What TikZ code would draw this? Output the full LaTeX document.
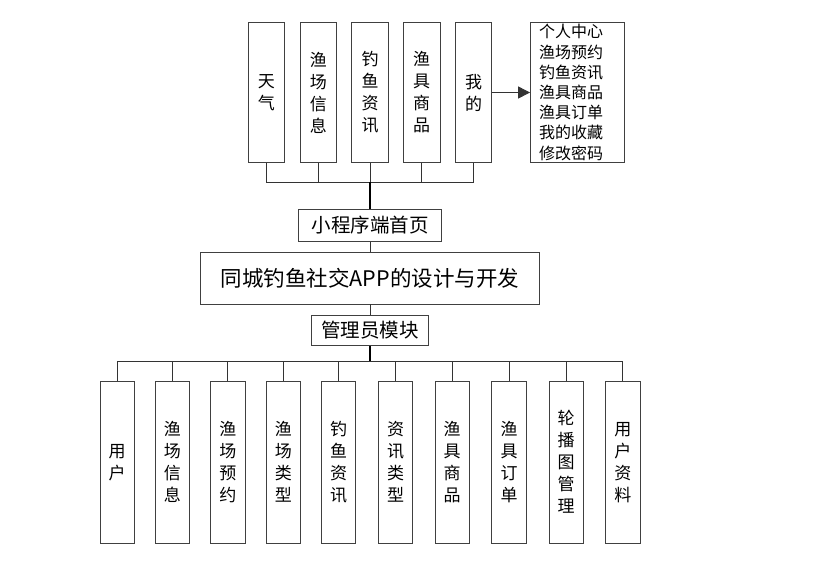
\documentclass[tikz,border=0pt]{standalone}
\usepackage{fontspec}
\setmainfont{Noto Sans CJK SC}
\usetikzlibrary{arrows.meta}
\begin{document}
\begin{tikzpicture}[x=1pt,y=-1pt,
  box/.style={draw=black!75,line width=0.8pt,fill=white,inner sep=0pt,align=center,text=black},
  topbox/.style={box,minimum width=36.5pt,minimum height=139.6pt,font=\fontsize{17}{22}\selectfont},
  botbox/.style={box,minimum width=34.3pt,minimum height=162.3pt,font=\fontsize{17}{22}\selectfont},
  conn/.style={draw=black!80,line width=0.9pt},
  bus/.style={draw=black,line width=1.1pt}]
\useasboundingbox (0,0) rectangle (833,574);
% top row
\node[topbox] (t1) at (266.3,92.5) {天\\气};
\node[topbox] (t2) at (318.3,92.5) {渔\\场\\信\\息};
\node[topbox] (t3) at (370,92.5) {钓\\鱼\\资\\讯};
\node[topbox] (t4) at (421.7,92.5) {渔\\具\\商\\品};
\node[topbox] (t5) at (473.5,92.5) {我\\的};
\node[box,align=left,text width=77pt,inner xsep=8.5pt,minimum height=139.6pt,
  font=\fontsize{16}{20.2}\selectfont] (mine) at (577.5,92.5)
  {个人中心\\渔场预约\\钓鱼资讯\\渔具商品\\渔具订单\\我的收藏\\修改密码};
\draw[conn,-{Triangle[length=12pt,width=12pt]}] (t5.east) -- (mine.west);
% middle
\node[box,minimum width=143.4pt,minimum height=32.3pt,font=\fontsize{19.5}{22}\selectfont] (home) at (370,225.2) {小程序端首页};
\node[box,minimum width=338.6pt,minimum height=51.7pt,font=\fontsize{21.5}{24}\selectfont] (main) at (370,278.2) {同城钓鱼社交APP的设计与开发};
\node[box,minimum width=116.6pt,minimum height=30.7pt,font=\fontsize{19.5}{22}\selectfont] (admin) at (370,330.4) {管理员模块};
\coordinate (hubtop) at (370,182);
\coordinate (hubbot) at (370,361.7);
\foreach \n in {t1,t2,t3,t4,t5} \draw[conn] (\n.south) |- (hubtop);
\draw[bus] (hubtop) -- (home.north);
\draw[conn] (home.south) -- (main.north);
\draw[conn] (main.south) -- (admin.north);
\draw[bus] (admin.south) -- (hubbot);
% bottom row
\node[botbox] (b1) at (117.2,462.2) {用\\户};
\node[botbox] (b2) at (172.3,462.2) {渔\\场\\信\\息};
\node[botbox] (b3) at (227.9,462.2) {渔\\场\\预\\约};
\node[botbox] (b4) at (283.4,462.2) {渔\\场\\类\\型};
\node[botbox] (b5) at (338.7,462.2) {钓\\鱼\\资\\讯};
\node[botbox] (b6) at (395.5,462.2) {资\\讯\\类\\型};
\node[botbox] (b7) at (452.2,462.2) {渔\\具\\商\\品};
\node[botbox] (b8) at (509,462.2) {渔\\具\\订\\单};
\node[botbox] (b9) at (566.2,462.2) {轮\\播\\图\\管\\理};
\node[botbox] (b10) at (622.9,462.2) {用\\户\\资\\料};
\foreach \n in {b1,b2,b3,b4,b5,b6,b7,b8,b9,b10} \draw[conn] (\n.north) |- (hubbot);
\end{tikzpicture}
\end{document}
